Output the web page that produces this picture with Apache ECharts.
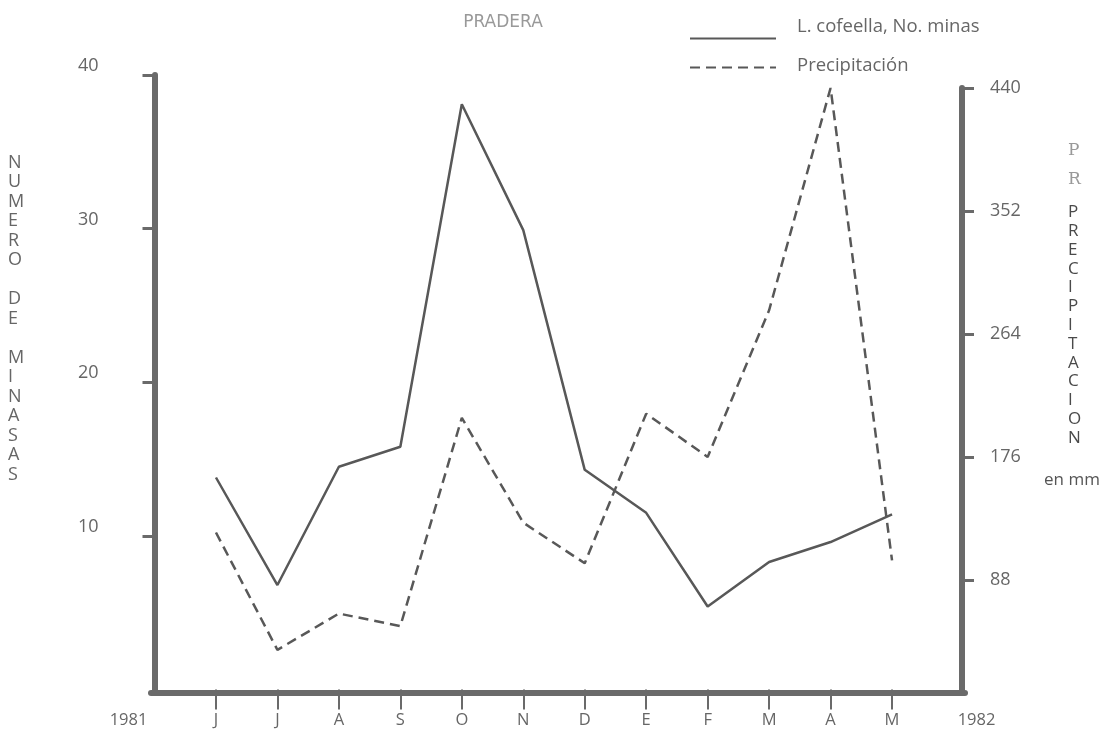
<!DOCTYPE html>
<html>
<head>
<meta charset="utf-8">
<script src="https://cdn.jsdelivr.net/npm/echarts@6/dist/echarts.min.js"></script>
<style>
html,body{margin:0;padding:0;background:#fff;}
#chart{width:1110px;height:749px;}
</style>
</head>
<body>
<div id="chart"></div>
<script>
const categories = ['1981','J','J','A','S','O','N','D','E','F','M','A','M','1982'];
const minas = [null, 13.8, 6.8, 14.5, 15.8, 38.1, 29.9, 14.3, 11.5, 5.4, 8.3, 9.6, 11.4, null];
const precipitacion = [null, 122, 38, 64, 55, 204, 129, 100, 207, 176, 281, 440, 102, null];
const leftTicks = [10, 20, 30, 40];
const rightTicks = [88, 176, 264, 352, 440];
const seriesNames = ['L. cofeella, No. minas', 'Precipitación'];

const FONT = '"Open Sans"';
const TXT = '#666';
const LINE = '#585858';
const AXIS = '#6a6a6a';

const chart = echarts.init(document.getElementById('chart'), null, {renderer: 'canvas'});

function stack(s) { return s.split('').join('\n'); }

const option = {
  backgroundColor: '#fff',
  animation: false,
  title: {
    text: 'PRADERA', left: 498, top: 9, textAlign: 'center',
    textStyle: {fontFamily: 'DejaVu Sans', fontSize: 17, fontWeight: 'normal', color: '#999'}
  },
  grid: [
    {left: 154.5, right: 156.5, top: 75, bottom: 59.5},
    {left: 154.5, right: 156.5, top: 88, bottom: 59.5},
    {left: 151, right: 145, top: 75, bottom: 56}
  ],
  legend: [
    {
      data: [seriesNames[0]], left: 684, top: 12, itemWidth: 86, itemHeight: 14,
      itemStyle: {opacity: 0},
      formatter: '{a|{name}}',
      textStyle: {rich: {a: {fontFamily: FONT, fontSize: 18.5, color: TXT, padding: [0, 0, 24, 16]}}}
    },
    {
      data: [seriesNames[1]], left: 684, top: 51, itemWidth: 86, itemHeight: 14,
      itemStyle: {opacity: 0},
      formatter: '{a|{name}}',
      textStyle: {rich: {a: {fontFamily: FONT, fontSize: 18.5, color: TXT, padding: [0, 0, 4, 16]}}}
    }
  ],
  xAxis: [
    {
      type: 'category', gridIndex: 0, data: categories, boundaryGap: false,
      axisLine: {show: false},
      axisTick: {show: true, length: 20, lineStyle: {color: AXIS, width: 2},
        interval: function (i) { return i > 0 && i < categories.length - 1; }},
      axisLabel: {
        interval: 0, margin: 22, fontFamily: FONT, fontSize: 16.5, color: TXT,
        formatter: function (v, i) {
          if (i === 0) return '{yl|' + v + '}';
          if (i === categories.length - 1) return '{yr|' + v + '}';
          return v;
        },
        rich: {
          yl: {fontFamily: FONT, fontSize: 16.5, color: TXT, padding: [0, 52, 0, 0]},
          yr: {fontFamily: FONT, fontSize: 16.5, color: TXT, padding: [0, 0, 0, 46]}
        }
      },
      splitLine: {show: false}
    },
    {type: 'category', gridIndex: 1, data: categories, boundaryGap: false, show: false},
    {type: 'value', gridIndex: 2, min: 0, max: 1,
      axisLine: {show: true, lineStyle: {color: AXIS, width: 6}},
      axisTick: {show: false}, axisLabel: {show: false}, splitLine: {show: false}}
  ],
  yAxis: [
    {
      type: 'value', gridIndex: 0, position: 'left', min: 0, max: 40,
      axisLine: {show: true, lineStyle: {color: AXIS, width: 6}},
      axisTick: {show: true, length: 12, customValues: leftTicks, lineStyle: {color: AXIS, width: 3}},
      axisLabel: {margin: 56, fontFamily: FONT, fontSize: 18, color: TXT, verticalAlign: 'bottom',
        customValues: leftTicks},
      splitLine: {show: false}
    },
    {
      type: 'value', gridIndex: 1, position: 'right', offset: 8.5, min: 9.65, max: 440,
      axisLine: {show: true, lineStyle: {color: AXIS, width: 6}},
      axisTick: {show: true, length: 12, customValues: rightTicks, lineStyle: {color: AXIS, width: 3}},
      axisLabel: {margin: 28, fontFamily: FONT, fontSize: 18, color: TXT, customValues: rightTicks},
      splitLine: {show: false}
    },
    {type: 'value', gridIndex: 2, show: false}
  ],
  series: [
    {
      name: seriesNames[0], type: 'line', xAxisIndex: 0, yAxisIndex: 0, data: minas,
      symbol: 'none', smooth: false,
      lineStyle: {color: LINE, width: 2.5, type: 'solid'},
      itemStyle: {color: LINE}
    },
    {
      name: seriesNames[1], type: 'line', xAxisIndex: 1, yAxisIndex: 1, data: precipitacion,
      symbol: 'none', smooth: false,
      lineStyle: {color: LINE, width: 2.5, type: [10, 6]},
      itemStyle: {color: LINE}
    }
  ],
  graphic: [
    {type: 'text', left: 8, top: 153, style: {
      text: stack('NUMERO') + '\n\n' + stack('DE') + '\n\n' + stack('MINASAS'),
      fontFamily: FONT, fontSize: 18, lineHeight: 19.5, fill: TXT, align: 'center', width: 18}},
    {type: 'text', left: 1068, top: 136, style: {text: 'P\nR', fontFamily: 'DejaVu Serif', fontSize: 17, lineHeight: 29, fill: '#999'}},
    {type: 'text', left: 1068, top: 203, style: {
      text: stack('PRECIPITACION'), fontFamily: FONT, fontSize: 17, lineHeight: 18.8, fill: '#4a4a4a', align: 'left'}},
    {type: 'text', left: 1044, top: 472, style: {text: 'en mm', fontFamily: FONT, fontSize: 17, fill: '#555'}}
  ]
};
chart.setOption(option);
</script>
</body>
</html>
